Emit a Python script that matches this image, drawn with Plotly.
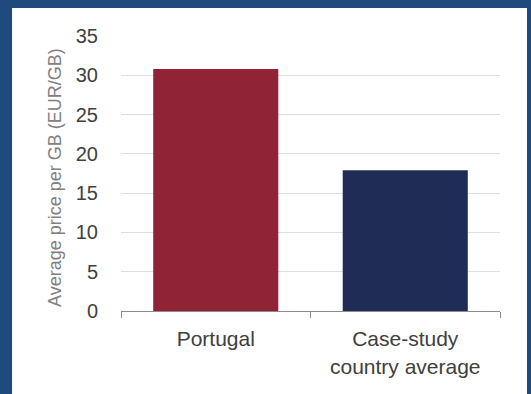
import plotly.graph_objects as go

categories = ["Portugal", "Case-study<br>country average"]
values = [30.8, 17.9]
bar_colors = ["#902335", "#1F2C56"]
y_ticks = [0, 5, 10, 15, 20, 25, 30, 35]
y_title = "Average price per GB (EUR/GB)"

W, H = 531, 394
L, R, T, B = 121, 31, 36, 83
pw, ph = W - L - R, H - T - B

def px_x(x):
    return (x - L) / pw

def px_y(y):
    return (H - B - y) / ph

fig = go.Figure()
fig.add_trace(go.Bar(x=categories, y=values, marker=dict(color=bar_colors, line=dict(width=0)),
                     hoverinfo="skip"))

fig.update_layout(
    width=W, height=H,
    margin=dict(l=L, r=R, t=T, b=B, pad=0),
    paper_bgcolor="#1F4A7E",
    plot_bgcolor="white",
    bargap=0.34,
    showlegend=False,
    font=dict(family="Liberation Sans, Arial, sans-serif"),
    xaxis=dict(
        showgrid=False,
        showline=True, linecolor="#8C8C8C", linewidth=1,
        ticks="outside", tickson="boundaries", ticklen=6, tickcolor="#8C8C8C",
        tickfont=dict(size=21, color="#404040"),
        ticklabelstandoff=9,
        fixedrange=True,
    ),
    yaxis=dict(
        range=[0, 35],
        tickvals=y_ticks,
        showgrid=True, gridcolor="#DEDEDE", gridwidth=1,
        zeroline=False, showline=False,
        tickfont=dict(size=20, color="#404040"),
        ticklabelstandoff=22,
        fixedrange=True,
    ),
    shapes=[
        dict(type="rect", xref="paper", yref="paper", layer="below",
             x0=px_x(12), x1=px_x(527), y0=px_y(394), y1=px_y(8),
             fillcolor="white", line=dict(width=0)),
    ],
    annotations=[
        dict(text=y_title, textangle=-90, xref="paper", yref="paper",
             x=px_x(55), y=px_y(178), xanchor="center", yanchor="middle",
             showarrow=False, font=dict(size=18, color="#808080")),
    ],
)

fig.write_html(
    "out.html",
    config={"displayModeBar": False, "staticPlot": True},
    post_script="document.body.style.margin='0';document.body.style.overflow='hidden';",
)
